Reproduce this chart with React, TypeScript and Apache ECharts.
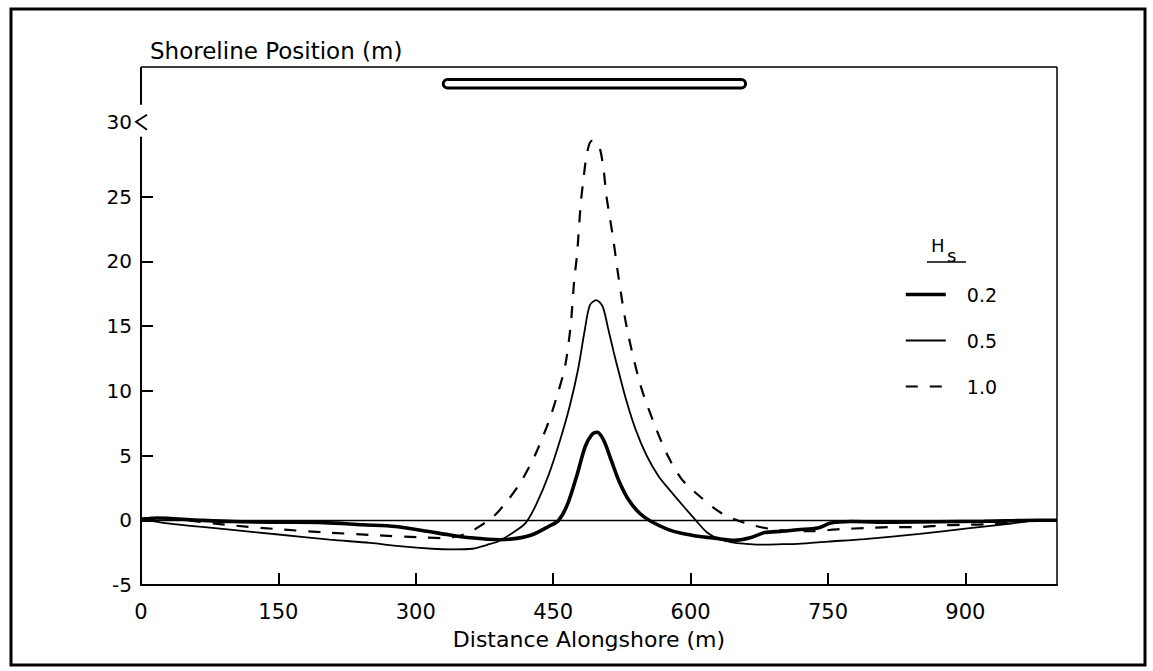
import React, { useEffect, useRef } from "react";
import * as echarts from "echarts";

// ---- data ----
const xTicks = [0, 150, 300, 450, 600, 750, 900];
const yTicks = [-5, 0, 5, 10, 15, 20, 25];
const yBreakLabel = 30;
const breakwaterX = [330, 660];
const seriesNames = ["0.2", "0.5", "1.0"];

const x02 = [0, 17, 60, 100, 150, 200, 242, 278, 314, 336, 360, 391, 410, 427, 445, 456, 466, 476, 485, 492, 498, 505, 513, 522, 533, 545, 557, 575, 590, 610, 626, 648, 665, 681, 700, 717, 739, 753, 775, 820, 870, 920, 980, 1000];
const y02 = [0, 0.17, 0.02, -0.1, -0.15, -0.18, -0.35, -0.48, -0.87, -1.12, -1.35, -1.5, -1.4, -1.12, -0.48, 0, 1.3, 3.5, 5.7, 6.6, 6.8, 6.2, 4.7, 3.0, 1.5, 0.5, -0.1, -0.7, -1.0, -1.25, -1.38, -1.55, -1.35, -0.95, -0.85, -0.73, -0.6, -0.22, -0.1, -0.15, -0.12, -0.08, 0, 0];

const x05 = [0, 24, 64, 97, 150, 206, 250, 282, 318, 340, 362, 378, 391, 405, 420, 432, 445, 458, 468, 477, 484, 490, 497, 504, 510, 516, 521, 530, 540, 552, 565, 580, 592, 605, 618, 630, 645, 660, 674, 700, 717, 750, 790, 850, 900, 950, 980, 1000];
const y05 = [0.1, -0.2, -0.5, -0.73, -1.1, -1.5, -1.75, -2.0, -2.2, -2.25, -2.2, -1.9, -1.6, -1.0, -0.2, 1.3, 3.5, 6.3, 8.8, 11.6, 14.5, 16.6, 17.0, 16.5, 14.8, 13.0, 11.6, 9.2, 7.0, 5.0, 3.4, 2.1, 1.1, 0.05, -0.95, -1.42, -1.7, -1.82, -1.88, -1.85, -1.82, -1.65, -1.45, -1.05, -0.65, -0.25, 0, 0];

const x10 = [0, 20, 50, 93, 148, 202, 255, 307, 330, 348, 360, 370, 385, 400, 415, 430, 445, 455, 463, 469, 473, 476, 480, 483, 487, 492, 497, 501, 505, 508, 512, 516, 520, 530, 545, 560, 575, 590, 608, 633, 659, 690, 730, 764, 793, 822, 848, 873, 898, 924, 955, 980, 1000];
const y10 = [0.15, 0.2, 0.0, -0.35, -0.68, -0.94, -1.15, -1.33, -1.38, -1.2, -0.87, -0.45, 0.3, 1.5, 3.0, 5.0, 7.6, 9.8, 11.9, 15.0, 18.6, 20.5, 24.4, 26.3, 28.4, 29.3, 29.2, 28.7, 27.1, 25.1, 23.3, 21.5, 19.4, 15.0, 10.5, 7.5, 5.0, 3.2, 1.97, 0.58, -0.2, -0.7, -0.85, -0.68, -0.6, -0.53, -0.53, -0.4, -0.35, -0.3, -0.15, 0, 0];

const titleText = "Shoreline Position (m)";
const xName = "Distance Alongshore (m)";

const W = 1153;
const H = 671;
const GRID = { left: 141, right: 96, top: 67, bottom: 86 };
const FONT = "DejaVu Sans";

const pairs = (xs: number[], ys: number[]) => xs.map((x, i) => [x, ys[i]]);

export default function App() {
  const ref = useRef<HTMLDivElement>(null);
  useEffect(() => {
    document.body.style.margin = "0";
    const chart = echarts.init(ref.current!, null, { renderer: "svg" });
    chart.setOption({
      animation: false,
      backgroundColor: "#ffffff",
      textStyle: { fontFamily: FONT, color: "#000" },
      title: {
        text: titleText,
        left: 145,
        top: 34,
        textStyle: { fontSize: 23, fontWeight: "normal", color: "#000", fontFamily: FONT },
      },
      grid: { ...GRID, show: false },
      legend: {
        orient: "vertical",
        left: 899,
        top: 280,
        itemWidth: 40,
        itemHeight: 14,
        itemGap: 27,
        data: seriesNames,
        lineStyle: { width: "inherit" },
        itemStyle: { opacity: 0, color: "transparent", borderWidth: 0 },
        textStyle: { fontSize: 19, color: "#000", fontFamily: FONT, padding: [0, 0, 0, 16] },
      },
      xAxis: {
        type: "value",
        min: 0,
        max: 1000,
        name: xName,
        nameLocation: "middle",
        nameGap: 43,
        nameTextStyle: { fontSize: 22, color: "#000", fontFamily: FONT, padding: [0, 20, 0, 0] },
        axisLine: { onZero: false, lineStyle: { color: "#000", width: 2 } },
        axisTick: { inside: true, length: 12, customValues: xTicks, lineStyle: { color: "#000", width: 2 } },
        axisLabel: { customValues: xTicks, margin: 16, fontSize: 21, color: "#000", fontFamily: FONT },
        splitLine: { show: false },
      },
      yAxis: {
        type: "value",
        min: -5,
        max: 35,
        axisLine: { show: false },
        axisTick: { inside: true, length: 12, customValues: yTicks, lineStyle: { color: "#000", width: 2 } },
        axisLabel: {
          customValues: [...yTicks, yBreakLabel],
          margin: 9,
          fontSize: 20,
          color: "#000",
          fontFamily: FONT,
          formatter: (v: number) => (v === yBreakLabel ? "{b|" + v + "}" : String(v)),
          rich: { b: { fontSize: 20, fontFamily: FONT, color: "#000", padding: [0, 0, 20, 0] } },
        },
        splitLine: { show: false },
      },
      series: [
        {
          name: seriesNames[0],
          type: "line",
          data: pairs(x02, y02),
          symbol: "none",
          smooth: 0.3,
          color: "#000",
          lineStyle: { color: "#000", width: 3.6 },
          z: 4,
        },
        {
          name: seriesNames[1],
          type: "line",
          data: pairs(x05, y05),
          symbol: "none",
          smooth: 0.3,
          color: "#000",
          lineStyle: { color: "#000", width: 1.8 },
          z: 3,
          markLine: {
            silent: true,
            symbol: "none",
            label: { show: false },
            lineStyle: { color: "#000", width: 1.3, type: "solid" },
            data: [{ yAxis: 0 }],
          },
        },
        {
          name: seriesNames[2],
          type: "line",
          data: pairs(x10, y10),
          symbol: "none",
          smooth: 0.3,
          color: "#000",
          lineStyle: { color: "#000", width: 2.2, type: [12, 12] },
          z: 2,
        },
      ],
    });

    const px = (x: number) => chart.convertToPixel({ gridIndex: 0 }, [x, 0])[0];
    const py = (y: number) => chart.convertToPixel({ gridIndex: 0 }, [0, y])[1];
    const L = GRID.left;
    const R = W - GRID.right;
    const T = GRID.top;
    const B = H - GRID.bottom;
    const yb = py(yBreakLabel) - 10;
    const bx0 = px(breakwaterX[0]);
    const bx1 = px(breakwaterX[1]);
    const stroke = { stroke: "#000", fill: "none" };

    chart.setOption({
      graphic: [
        { type: "rect", z: 100, shape: { x: 11, y: 9, width: 1134, height: 656 }, style: { ...stroke, lineWidth: 3 } },
        { type: "line", z: 100, shape: { x1: L, y1: T, x2: R, y2: T }, style: { ...stroke, lineWidth: 1.5 } },
        { type: "line", z: 100, shape: { x1: R, y1: T, x2: R, y2: B }, style: { ...stroke, lineWidth: 1.5 } },
        { type: "line", z: 100, shape: { x1: L, y1: T, x2: L, y2: yb - 17 }, style: { ...stroke, lineWidth: 2 } },
        { type: "line", z: 100, shape: { x1: L, y1: yb + 15, x2: L, y2: B }, style: { ...stroke, lineWidth: 2 } },
        {
          type: "polyline",
          z: 100,
          shape: { points: [[L + 6, yb - 7], [L - 5, yb], [L + 6, yb + 8]] },
          style: { ...stroke, lineWidth: 1.8 },
        },
        {
          type: "rect",
          z: 100,
          shape: { x: bx0, y: 79.5, width: bx1 - bx0, height: 8.5, r: 4.5 },
          style: { stroke: "#000", fill: "#fff", lineWidth: 3 },
        },
        {
          type: "text",
          z: 100,
          x: 931,
          y: 245,
          style: { text: "H", fontSize: 18, fontFamily: FONT, fill: "#000", verticalAlign: "middle", align: "left" },
        },
        {
          type: "text",
          z: 100,
          x: 947,
          y: 255,
          style: { text: "s", fontSize: 18, fontFamily: FONT, fill: "#000", verticalAlign: "middle", align: "left" },
        },
        { type: "line", z: 100, shape: { x1: 927, y1: 262, x2: 966, y2: 262 }, style: { ...stroke, lineWidth: 1.5 } },
      ],
    });

    return () => chart.dispose();
  }, []);
  return <div ref={ref} style={{ width: W, height: H }} />;
}
